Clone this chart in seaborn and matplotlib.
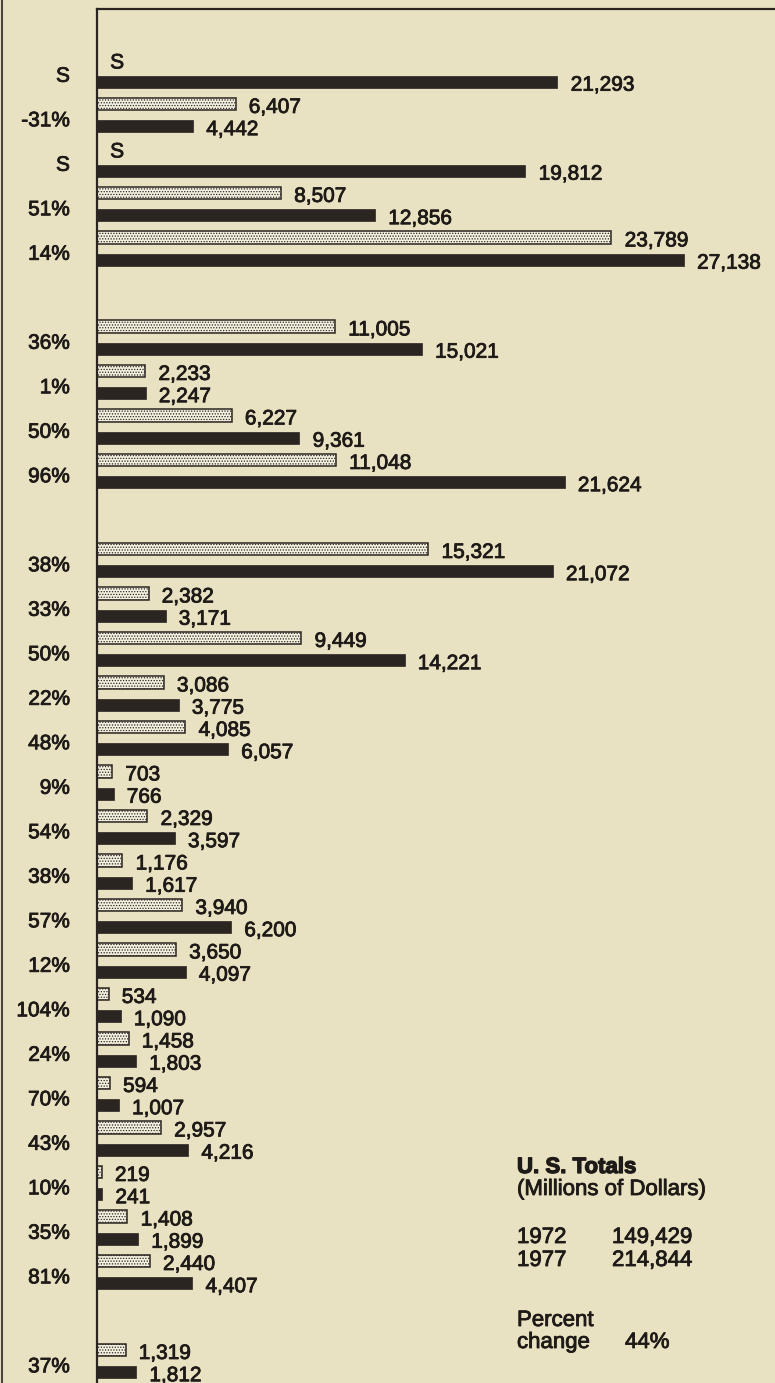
import matplotlib
matplotlib.use("Agg")
import matplotlib.pyplot as plt
import matplotlib.transforms as mtransforms
import matplotlib.patheffects as pe
from matplotlib.lines import Line2D
import seaborn as sns
import pandas as pd

# ---------------- data ----------------
pct_change = ["S", "-31%", "S", "51%", "14%",
              "36%", "1%", "50%", "96%",
              "38%", "33%", "50%", "22%", "48%", "9%", "54%", "38%", "57%",
              "12%", "104%", "24%", "70%", "43%", "10%", "35%", "81%",
              "37%"]
v1972 = [None, 6407, None, 8507, 23789,
         11005, 2233, 6227, 11048,
         15321, 2382, 9449, 3086, 4085, 703, 2329, 1176, 3940,
         3650, 534, 1458, 594, 2957, 219, 1408, 2440,
         1319]
v1977 = [21293, 4442, 19812, 12856, 27138,
         15021, 2247, 9361, 21624,
         21072, 3171, 14221, 3775, 6057, 766, 3597, 1617, 6200,
         4097, 1090, 1803, 1007, 4216, 241, 1899, 4407,
         1812]
group_sizes = [5, 4, 17, 1]
years = ["1972", "1977"]
totals_years = ["1972", "1977"]
totals_values = ["149,429", "214,844"]
total_pct = "44%"

# ---------------- layout helpers ----------------
pair_index = []
r = 0
for gi, n in enumerate(group_sizes):
    for _ in range(n):
        pair_index.append(r + gi)
        r += 1

rows = []
for i, p in enumerate(pair_index):
    for k, (yr, vals) in enumerate(zip(years, [v1972, v1977])):
        if vals[i] is not None:
            rows.append({"slot": 2 * p + k, "value": vals[i], "year": yr})
df = pd.DataFrame(rows)

BG = "#E9E2C2"
DARK = "#2B2521"
LIGHT = "#F4F0DF"
TXT = "#1e1a17"

sns.set_theme(style="white")
plt.rcParams["font.family"] = ["Liberation Sans", "DejaVu Sans"]
plt.rcParams["hatch.linewidth"] = 0.6
plt.rcParams["hatch.color"] = "#6b655c"

W, H = 775, 1383
fig = plt.figure(figsize=(W / 100, H / 100), dpi=100, facecolor=BG)
ax = fig.add_axes([97 / W, 0, 678 / W, 1374 / H])
ax.set_facecolor(BG)

sns.barplot(data=df, x="value", y="slot", hue="year", hue_order=years,
            orient="h", native_scale=True, dodge=False, width=0.55,
            palette={"1972": LIGHT, "1977": DARK}, saturation=1,
            errorbar=None, legend=False, ax=ax)

for bar in ax.containers[0]:
    bar.set_hatch("......")
    bar.set_edgecolor(DARK)
    bar.set_linewidth(1.1)
for bar in ax.containers[1]:
    bar.set_edgecolor(DARK)
    bar.set_linewidth(0.5)

ax.set_xlim(0, 31350)
ax.set_ylim(59.48, -2.27)
ax.set_xticks([])
ax.set_yticks([])
ax.set_xlabel("")
ax.set_ylabel("")
for side in ["right", "bottom"]:
    ax.spines[side].set_visible(False)
for side in ["left", "top"]:
    ax.spines[side].set_color(DARK)
    ax.spines[side].set_linewidth(1.6)

FS = 15
heavy = [pe.withStroke(linewidth=0.6, foreground=TXT)]

# value labels
trans = mtransforms.blended_transform_factory(ax.transAxes, ax.transData)
for i, p in enumerate(pair_index):
    for k, vals in enumerate([v1972, v1977]):
        slot = 2 * p + k
        v = vals[i]
        txt = "S" if v is None else f"{v:,}"
        xv = 0 if v is None else v
        ax.annotate(txt, xy=(xv, slot + 0.40), xytext=(9.5, 0),
                    textcoords="offset points", ha="left", va="baseline",
                    fontsize=FS, color=TXT, path_effects=heavy)
    # percent change
    ax.text(-27 / 678, 2 * p + 1.0, pct_change[i], transform=trans,
            ha="right", va="baseline", fontsize=FS, color=TXT,
            clip_on=False, path_effects=heavy)

# left edge line of the page
fig.add_artist(Line2D([2 / W, 2 / W], [0, 1], transform=fig.transFigure,
                      color="#4a443c", linewidth=1.5))

# totals block
def fy(px):
    return 1 - px / H

TX = 517 / W
kw = dict(fontsize=16, color=TXT, va="baseline", path_effects=heavy)
fig.text(TX, fy(1173), "U. S. Totals", fontweight="bold", fontsize=16,
         color=TXT, va="baseline",
         path_effects=[pe.withStroke(linewidth=0.9, foreground=TXT)])
fig.text(TX, fy(1195), "(Millions of Dollars)", **kw)
for j, (yy, vv) in enumerate(zip(totals_years, totals_values)):
    fig.text(TX, fy(1243 + 23 * j), yy, **kw)
    fig.text(612 / W, fy(1243 + 23 * j), vv, **kw)
fig.text(TX, fy(1326), "Percent", **kw)
fig.text(TX, fy(1348), "change", **kw)
fig.text(625 / W, fy(1348), total_pct, **kw)

fig.savefig("out.png", dpi=100, facecolor=BG)
